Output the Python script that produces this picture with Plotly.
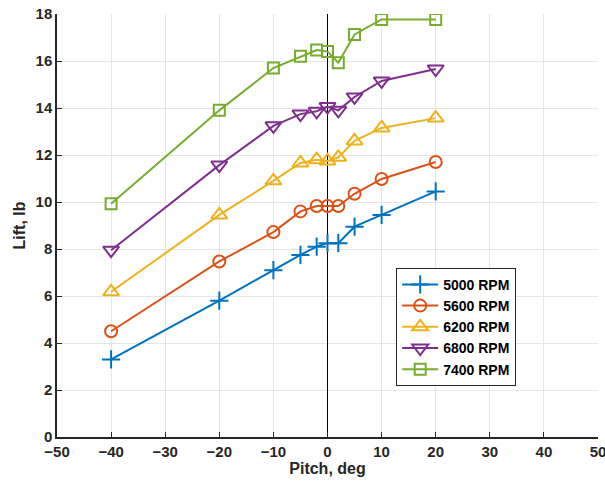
import plotly.graph_objects as go

pitch = [-40, -20, -10, -5, -2, 0, 2, 5, 10, 20]
lift_5000 = [3.3, 5.8, 7.1, 7.75, 8.1, 8.25, 8.25, 8.95, 9.45, 10.45]
lift_5600 = [4.5, 7.47, 8.72, 9.6, 9.83, 9.83, 9.83, 10.35, 10.98, 11.7]
lift_6200 = [6.18, 9.45, 10.9, 11.66, 11.8, 11.75, 11.9, 12.6, 13.15, 13.57]
lift_6800 = [7.95, 11.57, 13.24, 13.74, 13.86, 14.06, 13.9, 14.47, 15.15, 15.66]
lift_7400 = [9.93, 13.9, 15.7, 16.2, 16.47, 16.4, 15.93, 17.13, 17.77, 17.77]

names = ["5000 RPM", "5600 RPM", "6200 RPM", "6800 RPM", "7400 RPM"]
series = [lift_5000, lift_5600, lift_6200, lift_6800, lift_7400]
colors = ["#0072BD", "#D95319", "#EDB120", "#7E2F8E", "#77AC30"]
symbols = ["cross-thin-open", "circle-open", "triangle-up-open", "triangle-down-open", "square-open"]
sizes = [13, 12, 14, 14, 11]

fig = go.Figure()
for n, s, c, sym, sz in zip(names, series, colors, symbols, sizes):
    fig.add_trace(go.Scatter(
        x=pitch, y=s, name=n, mode="lines+markers",
        line=dict(color=c, width=2),
        marker=dict(symbol=sym, size=sz, color=c, line=dict(color=c, width=2)),
    ))

FAM = "Liberation Sans, Arial, sans-serif"
font = dict(family=FAM, size=15, color="#262626", weight="bold")

fig.update_layout(
    width=605, height=487,
    margin=dict(l=57, r=7, t=14, b=50),
    paper_bgcolor="white", plot_bgcolor="white",
    font=font,
    showlegend=True,
    legend=dict(
        x=0.627, y=0.40, xanchor="left", yanchor="top",
        bgcolor="white", bordercolor="#262626", borderwidth=1,
        font=dict(family=FAM, size=14, color="black", weight="bold"),
        tracegroupgap=0, itemwidth=36,
    ),
    xaxis=dict(
        range=[-50, 50], tickmode="array", tickvals=list(range(-50, 51, 10)),
        showgrid=True, gridcolor="#e6e6e6", gridwidth=1,
        zeroline=True, zerolinecolor="black", zerolinewidth=1,
        showline=True, linecolor="#262626", linewidth=1.5,
        ticks="inside", ticklen=5, tickcolor="#262626",
        tickfont=font, automargin=False, ticklabeloverflow="allow",
        title=dict(text="Pitch, deg", font=dict(family=FAM, size=16, color="#262626", weight="bold"), standoff=0),
    ),
    yaxis=dict(
        range=[0, 18], tickmode="array", tickvals=list(range(0, 19, 2)),
        showgrid=True, gridcolor="#e6e6e6", gridwidth=1,
        zeroline=False,
        showline=True, linecolor="#262626", linewidth=1.5,
        ticks="inside", ticklen=5, tickcolor="#262626",
        tickfont=font, automargin=False, ticklabeloverflow="allow",
        title=dict(text="Lift, lb", font=dict(family=FAM, size=16, color="#262626", weight="bold"), standoff=6),
    ),
)

fig.write_html("out.html", config={"displayModeBar": False},
               post_script="document.body.style.margin='0';")
